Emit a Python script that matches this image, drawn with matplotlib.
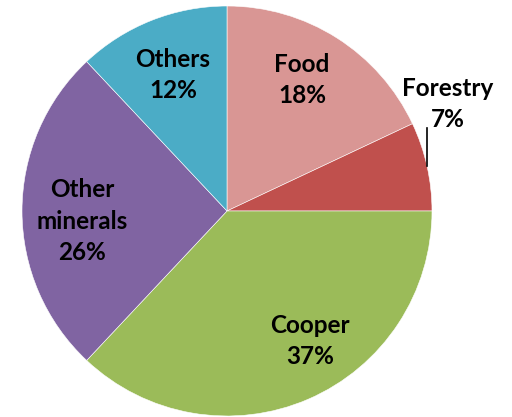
import numpy as np
import matplotlib
matplotlib.use("Agg")
import matplotlib.pyplot as plt

# Export shares by sector
categories = ["Food", "Forestry", "Cooper", "Other minerals", "Others"]
shares = [18, 7, 37, 26, 12]
colors = ["#D99694", "#C0504D", "#9BBB59", "#8064A2", "#4BACC6"]
label_text = ["Food", "Forestry", "Cooper", "Other\nminerals", "Others"]

# label placement (x, y) in units of the pie radius
label_pos = [(0.366, 0.639), (1.078, 0.522), (0.405, -0.634),
             (-0.707, -0.049), (-0.263, 0.663)]

plt.rcParams['font.family'] = ['Lato', 'DejaVu Sans']

fig = plt.figure(figsize=(5.12, 4.17), dpi=100)
cx, cy, r = 227, 211, 205
W, H = 512, 417
ax = fig.add_axes([(cx - r) / W, (H - cy - r) / H, 2 * r / W, 2 * r / H])

ax.pie(shares, colors=colors, startangle=90, counterclock=False,
       radius=1.0, wedgeprops=dict(edgecolor="white", linewidth=0.4))
ax.set_xlim(-1, 1)
ax.set_ylim(-1, 1)
ax.set_aspect("auto")
ax.axis("off")

for txt, v, (x, y) in zip(label_text, shares, label_pos):
    ax.text(x, y, f"{txt}\n{v}%", ha="center", va="center",
            fontsize=17.5, fontweight="bold", color="black", linespacing=1.45)

# leader line for the small Forestry slice
lx = 0.976
ax.plot([lx, lx], [np.sqrt(1 - lx ** 2), 0.405], color="black", lw=1.2,
        clip_on=False)

fig.savefig("out.png", dpi=100, facecolor="white")
